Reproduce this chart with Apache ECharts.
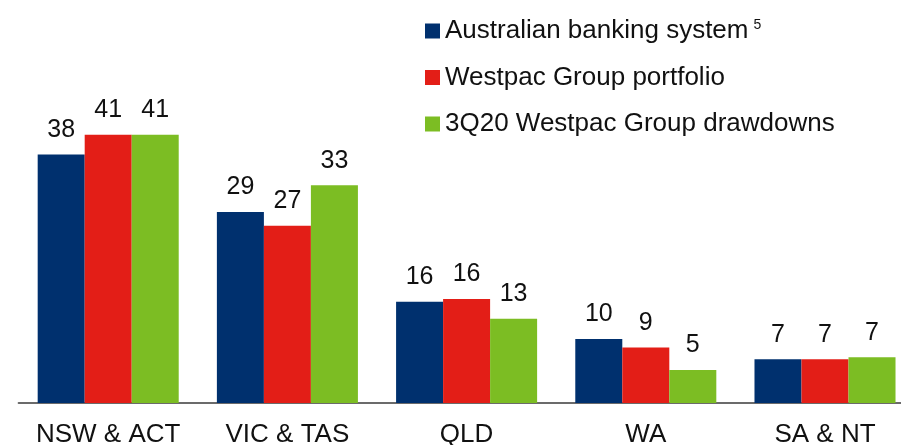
<!DOCTYPE html>
<html>
<head>
<meta charset="utf-8">
<script src="https://cdn.jsdelivr.net/npm/echarts@6/dist/echarts.min.js"></script>
<style>
  html, body { margin: 0; padding: 0; background: #fff; }
  #chart { width: 901px; height: 445px; }
</style>
</head>
<body>
<div id="chart"></div>
<script>
// regions on the x axis
const categories = ["NSW & ACT", "VIC & TAS", "QLD", "WA", "SA & NT"];
// bar heights (labels print them rounded)
const bankingSystem = [38.0, 29.2, 15.5, 9.8, 6.7];
const westpacPortfolio = [41.0, 27.1, 15.9, 8.5, 6.7];
const drawdowns3Q20 = [41.0, 33.3, 12.9, 5.05, 7.0];
const seriesNames = [
  "Australian banking system",
  "Westpac Group portfolio",
  "3Q20 Westpac Group drawdowns",
];

const font = "Arial, 'Liberation Sans', sans-serif";
const colors = ["#00306E", "#E31E17", "#7CBD23"];

const chart = echarts.init(document.getElementById("chart"), null, { renderer: "canvas" });

function makeBar(name, data, color) {
  return {
    name: name,
    type: "bar",
    data: data,
    barGap: "0%",
    barCategoryGap: "21.3%",
    itemStyle: { color: color },
    label: {
      show: true,
      position: "top",
      distance: 12,
      fontFamily: font,
      fontSize: 25,
      color: "#111",
      formatter: (p) => Math.round(p.value),
    },
  };
}

chart.setOption({
  backgroundColor: "#fff",
  animation: false,
  color: colors,
  legend: {
    orient: "vertical",
    left: 420,
    top: 13,
    icon: "rect",
    itemWidth: 15,
    itemHeight: 15,
    itemGap: 20.5,
    itemStyle: { borderWidth: 0 },
    data: seriesNames,
    formatter: (name) =>
      name === seriesNames[0] ? "{a|" + name + "}{s|5}" : "{a|" + name + "}",
    textStyle: {
      fontFamily: font,
      fontSize: 26,
      color: "#111",
      rich: {
        a: { fontFamily: font, fontSize: 26, lineHeight: 26, color: "#111" },
        s: {
          fontFamily: font,
          fontSize: 14,
          color: "#111",
          verticalAlign: "top",
          lineHeight: 8,
          padding: [0, 0, 0, 5],
        },
      },
    },
  },
  grid: {
    left: 18.6,
    top: 76,
    width: 896,
    bottom: 42,
    containLabel: false,
    outerBoundsMode: "none",
  },
  xAxis: {
    type: "category",
    data: categories,
    axisLine: { lineStyle: { color: "#6b6b6b", width: 2 } },
    axisTick: { show: false },
    axisLabel: {
      interval: 0,
      hideOverlap: false,
      fontFamily: font,
      fontSize: 26,
      color: "#111",
      margin: 19,
    },
  },
  yAxis: {
    type: "value",
    min: 0,
    max: 50,
    show: false,
    splitLine: { show: false },
  },
  series: [
    makeBar(seriesNames[0], bankingSystem, colors[0]),
    makeBar(seriesNames[1], westpacPortfolio, colors[1]),
    makeBar(seriesNames[2], drawdowns3Q20, colors[2]),
  ],
});
</script>
</body>
</html>
